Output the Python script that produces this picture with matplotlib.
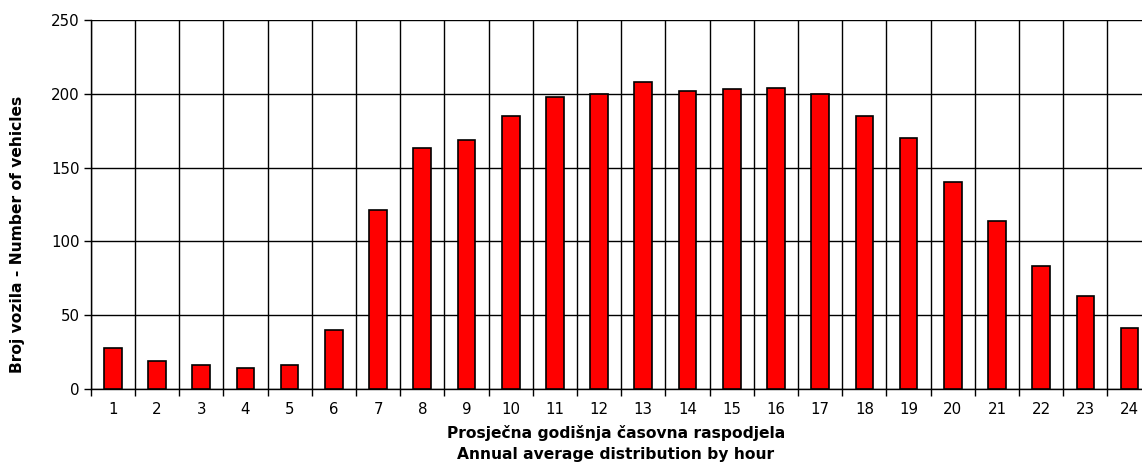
import numpy as np
import matplotlib
matplotlib.use("Agg")
from matplotlib import pyplot as plt

# hours and average vehicle counts
hours = list(range(1, 25))
vehicles = [28, 19, 16, 14, 16, 40, 121, 163, 169, 185, 198, 200,
            208, 202, 203, 204, 200, 185, 170, 140, 114, 83, 63, 41]
yticks = [0, 50, 100, 150, 200, 250]

plt.rcParams['font.family'] = ['DejaVu Sans']

fig = plt.figure(figsize=(11.42, 4.63), dpi=100)
W, H = 1142.0, 463.0
ax = fig.add_axes([90.7 / W, 1 - 389 / H, 1061 / W, 369 / H])

x = np.arange(len(hours))
ax.bar(x, vehicles, width=0.4, color='#ff0000', edgecolor='black',
       linewidth=1.2, zorder=3)

ax.set_xlim(-0.5, len(hours) - 0.5)
ax.set_ylim(0, 250)

# category boundaries as major ticks (grid), labels on minor ticks
ax.set_xticks(np.arange(len(hours) + 1) - 0.5)
ax.set_xticklabels([])
ax.set_xticks(x, minor=True)
ax.set_xticklabels([str(h) for h in hours], minor=True, fontsize=10.8)
ax.tick_params(axis='x', which='major', direction='out', length=5, width=1)
ax.tick_params(axis='x', which='minor', length=0, pad=9)
ax.set_yticks(yticks)
ax.set_yticklabels([str(v) for v in yticks], fontsize=10.8)
ax.tick_params(axis='y', direction='out', length=5, width=1, pad=3)

ax.grid(True, which='major', color='black', linewidth=1, zorder=0)
ax.set_axisbelow(True)
for s in ['top', 'right']:
    ax.spines[s].set_visible(False)
ax.spines['left'].set_linewidth(1)
ax.spines['bottom'].set_linewidth(1)

fig.text(18 / W, 1 - 234 / H, 'Broj vozila - Number of vehicles', rotation=90,
         ha='center', va='center', fontsize=11.2, fontweight='bold')
fig.text(616 / W, 1 - 433 / H, 'Prosječna godišnja časovna raspodjela',
         ha='center', va='center', fontsize=11.2, fontweight='bold')
fig.text(616 / W, 1 - 455 / H, 'Annual average distribution by hour',
         ha='center', va='center', fontsize=11.2, fontweight='bold')

fig.savefig('out.png', dpi=100)
